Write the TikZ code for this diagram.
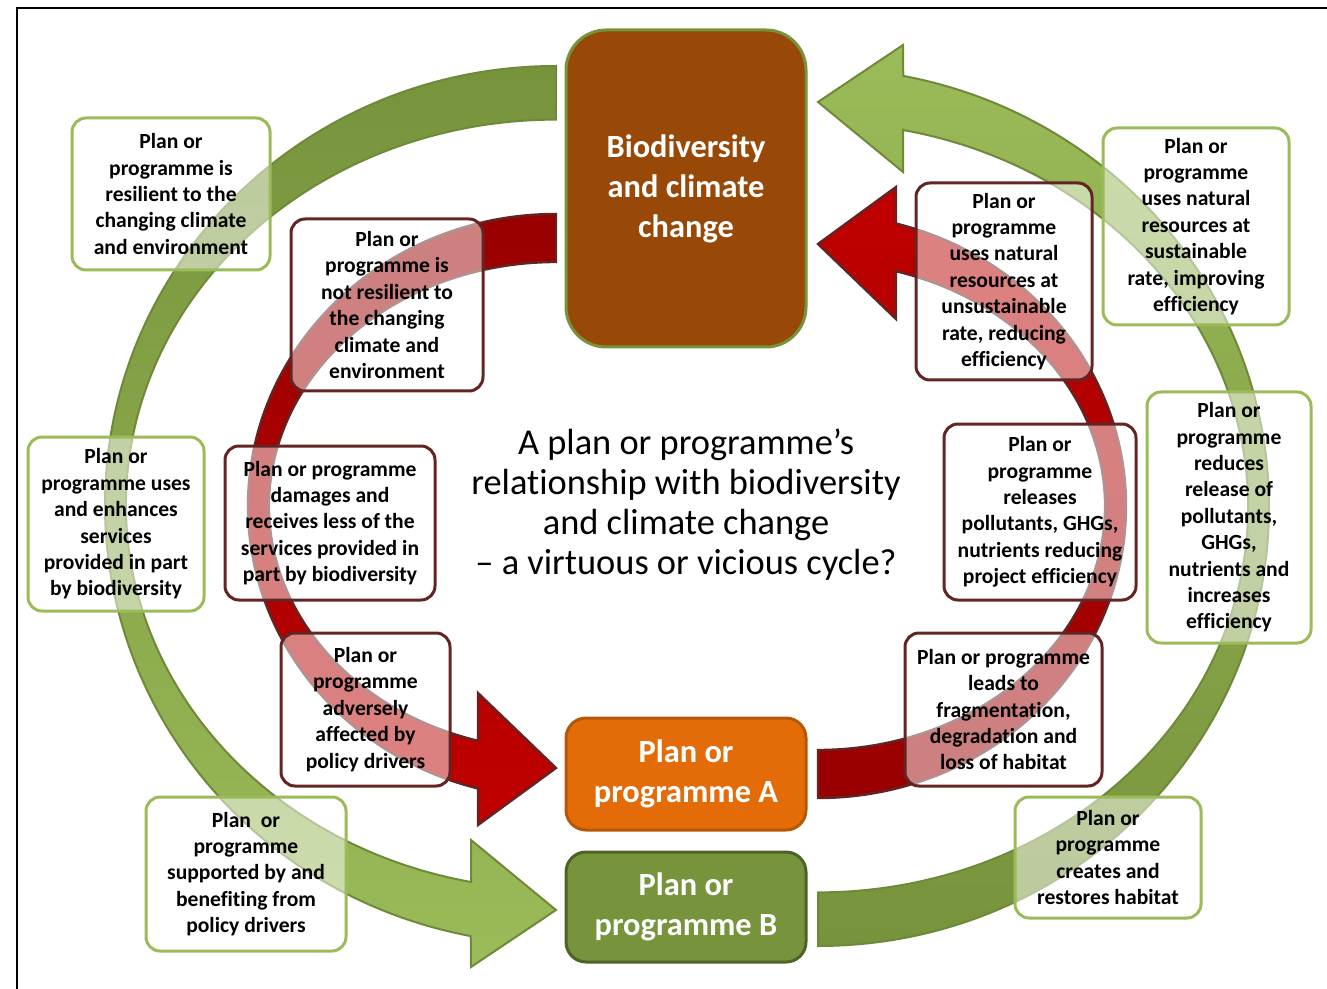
\documentclass[tikz,border=0pt]{standalone}
\usepackage{fontspec}
\setmainfont[Ligatures=NoCommon]{Carlito}
\definecolor{grnDark}{HTML}{77933C}
\definecolor{grnLight}{HTML}{9BBB59}
\definecolor{grnLine}{HTML}{6E8A38}
\definecolor{redDark}{HTML}{990000}
\definecolor{redLight}{HTML}{C00000}
\definecolor{redLine}{HTML}{632523}
\definecolor{bioBrown}{HTML}{984807}
\definecolor{progOrange}{HTML}{E36C09}
\definecolor{progOrangeLine}{HTML}{B65708}
\definecolor{progGreenLine}{HTML}{4F6228}
\begin{document}
\begin{tikzpicture}[x=0.5pt, y=-0.5pt,
    lbl/.style={rounded corners=7pt, line width=1.5pt, fill=white, fill opacity=0.5, text opacity=1, align=center, inner sep=0pt, font=\fontsize{10.8}{13.2}\selectfont\bfseries},
    grnlbl/.style={lbl, draw=grnLight},
    redlbl/.style={lbl, draw=redLine},
    mainbox/.style={align=center, text=white, line width=1.5pt, inner sep=0pt, minimum width=120pt, font=\fontsize{16.2}{20}\selectfont\bfseries}]

    \useasboundingbox (0,0) rectangle (1327,989);
    \draw[line width=1.2pt] (17,989) -- (17,8) -- (1327,8);

    \draw[grnLine, line width=1pt, top color=grnDark, bottom color=grnLight]
        (556,66) arc[start angle=270, end angle=100.9, x radius=451, y radius=439]
        -- (471,967) -- (556,910) -- (471,840) -- (471,882)
        arc[start angle=101.4, end angle=270, x radius=430, y radius=385] -- cycle;
    \draw[redLine, line width=1.2pt, top color=redDark, bottom color=redLight]
        (556,214) arc[start angle=270, end angle=104.67, x radius=308, y radius=292]
        -- (478,825) -- (556,768) -- (478,693) -- (478,740.8)
        arc[start angle=105.77, end angle=270, x radius=287, y radius=244] -- cycle;
    \begin{scope}[rotate around={180:(687,506)}]
    \draw[grnLine, line width=1pt, top color=grnLight, bottom color=grnDark]
        (556,66) arc[start angle=270, end angle=100.9, x radius=451, y radius=439]
        -- (471,967) -- (556,910) -- (471,840) -- (471,882)
        arc[start angle=101.4, end angle=270, x radius=430, y radius=385] -- cycle;
    \draw[redLine, line width=1.2pt, top color=redLight, bottom color=redDark]
        (556,214) arc[start angle=270, end angle=104.67, x radius=308, y radius=292]
        -- (478,825) -- (556,768) -- (478,693) -- (478,740.8)
        arc[start angle=105.77, end angle=270, x radius=287, y radius=244] -- cycle;
    \end{scope}

    \node[mainbox, minimum height=158.5pt, rounded corners=20pt, fill=bioBrown, draw=grnDark] (bio) at (686,188.5) {Biodiversity\\and climate\\change};
    \node[mainbox, minimum height=56pt, rounded corners=10pt, fill=progOrange, draw=progOrangeLine] (progA) at (686,774) {Plan or\\programme A};
    \node[mainbox, minimum height=55pt, rounded corners=10pt, fill=grnDark, draw=progGreenLine] (progB) at (686,907) {Plan or\\programme B};

    \node[align=center, font=\fontsize{18.2}{20}\selectfont] (title) at (686,505) {A plan or programme’s\\relationship with biodiversity\\and climate change\\– a virtuous or vicious cycle?};

    \node[grnlbl, minimum width=99pt, minimum height=76pt] (resilient) at (171,194) {Plan or\\programme is\\resilient to the\\changing climate\\and environment};
    \node[grnlbl, minimum width=88pt, minimum height=87pt] (enhances) at (116,524) {Plan or\\programme uses\\and enhances\\services\\provided in part\\by biodiversity};
    \node[grnlbl, minimum width=100pt, minimum height=77pt] (supported) at (246,874) {Plan\ \ or\\programme\\supported by and\\benefiting from\\policy drivers};
    \node[grnlbl, minimum width=93pt, minimum height=98.5pt] (sustain) at (1196,226.5) {Plan or\\programme\\uses natural\\resources at\\sustainable\\rate, improving\\efficiency};
    \node[grnlbl, minimum width=82pt, minimum height=125.5pt] (reduces) at (1229,517.5) {Plan or\\programme\\reduces\\release of\\pollutants,\\GHGs,\\nutrients and\\increases\\efficiency};
    \node[grnlbl, minimum width=93pt, minimum height=60.5pt] (restores) at (1108,857.5) {Plan or\\programme\\creates and\\restores habitat};

    \node[redlbl, minimum width=96pt, minimum height=86pt] (notresilient) at (387,305) {Plan or\\programme is\\not resilient to\\the changing\\climate and\\environment};
    \node[redlbl, minimum width=105pt, minimum height=77pt] (damages) at (330,523) {Plan or programme\\damages and\\receives less of the\\services provided in\\part by biodiversity};
    \node[redlbl, minimum width=84.5pt, minimum height=76.5pt] (adverse) at (365.5,709.5) {Plan or\\programme\\adversely\\affected by\\policy drivers};
    \node[redlbl, minimum width=88pt, minimum height=98.5pt] (unsustain) at (1004,281.5) {Plan or\\programme\\uses natural\\resources at\\unsustainable\\rate, reducing\\efficiency};
    \node[redlbl, minimum width=96pt, minimum height=88pt] (releases) at (1040,512) {Plan or\\programme\\releases\\pollutants, GHGs,\\nutrients reducing\\project efficiency};
    \node[redlbl, minimum width=98.5pt, minimum height=76.5pt] (fragment) at (1003.5,709.5) {Plan or programme\\leads to\\fragmentation,\\degradation and\\loss of habitat};

\end{tikzpicture}
\end{document}
